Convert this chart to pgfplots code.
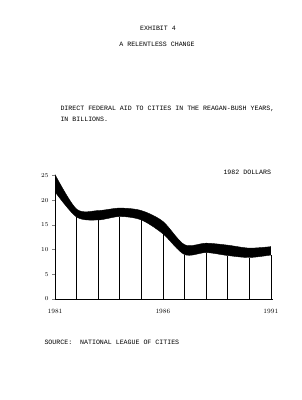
\documentclass[border=0pt]{standalone}
\usepackage{fontspec}
\setmonofont{Liberation Mono}
\usepackage{pgfplots}
\pgfplotsset{compat=1.18}
\usepgfplotslibrary{fillbetween}
\begin{document}
\begin{tikzpicture}[x=1pt,y=1pt]
\path (0,0) rectangle (301,400);
\begin{axis}[
  at={(55pt,101pt)}, anchor=south west,
  scale only axis, width=218pt, height=123.5pt,
  xmin=1981, xmax=1991.1, ymin=0, ymax=25,
  axis lines*=left,
  axis line style={line width=0.8pt},
  xtick={1981,1986,1991},
  xticklabels={1981,1986,1991},
  ytick={0,5,10,15,20,25},
  tick align=outside,
  major tick length=3pt,
  x tick style={draw=none},
  y tick style={line width=0.6pt},
  ticklabel style={font=\fontsize{6.5}{7}\selectfont},
  xticklabel style={yshift=-4pt},
  clip=false,
]
\addplot[name path=top, draw=black, smooth, tension=0.5] coordinates {
 (1981,25.2) (1982,18.2) (1983,17.9) (1984,18.4) (1985,17.9) (1986,15.7)
 (1987,11.0) (1988,11.3) (1989,10.9) (1990,10.3) (1991,10.6)};
\addplot[name path=bot, draw=black, smooth, tension=0.5] coordinates {
 (1981,21.7) (1982,16.6) (1983,16.0) (1984,16.7) (1985,16.0) (1986,13.2)
 (1987,9.0) (1988,9.4) (1989,8.8) (1990,8.4) (1991,8.9)};
\addplot[fill=black, draw=none] fill between[of=top and bot];
\addplot[ycomb, black, line width=0.6pt, mark=none] coordinates {
 (1981,21.7) (1982,16.6) (1983,16.0) (1984,16.7) (1985,16.0) (1986,13.2)
 (1987,9.0) (1988,9.4) (1989,8.8) (1990,8.4) (1991,8.9)};
\end{axis}
\begin{scope}[font=\ttfamily\fontsize{6.6}{8}\selectfont]
\node at (158,372) {EXHIBIT 4};
\node at (157,356) {A RELENTLESS CHANGE};
\node[anchor=west] at (57,291) {DIRECT FEDERAL AID TO CITIES IN THE REAGAN-BUSH YEARS,};
\node[anchor=west] at (57,281) {IN BILLIONS.};
\node[anchor=west] at (220,228) {1982 DOLLARS};
\node[anchor=west] at (41,58) {SOURCE:\ \ NATIONAL LEAGUE OF CITIES};
\end{scope}
\end{tikzpicture}
\end{document}
